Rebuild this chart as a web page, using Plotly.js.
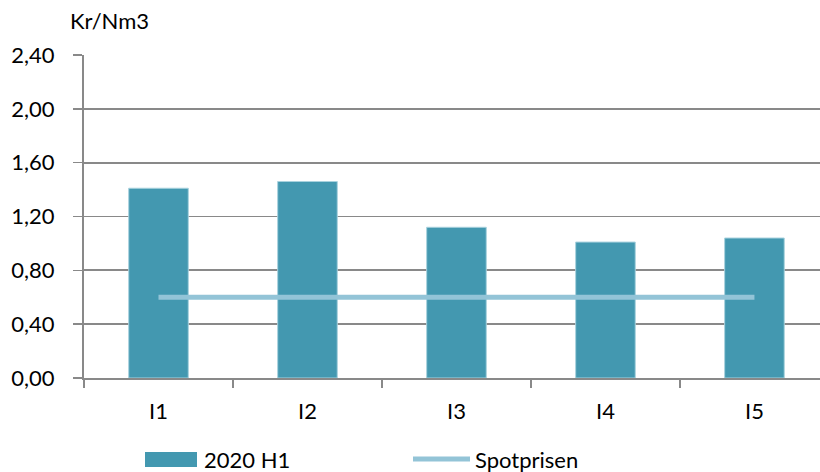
<!DOCTYPE html>
<html>
<head>
<meta charset="utf-8">
<script src="https://cdn.plot.ly/plotly-3.0.1.min.js"></script>
<style>html,body{margin:0;padding:0;background:#fff;}#chart{width:820px;height:472px;}</style>
</head>
<body>
<div id="chart"></div>
<script>
var categories = ["I1", "I2", "I3", "I4", "I5"];
var values2020H1 = [1.41, 1.46, 1.12, 1.01, 1.04];
var spotprisen = [0.60, 0.60, 0.60, 0.60, 0.60];
var seriesNames = ["2020 H1", "Spotprisen"];
var yTicks = [0, 0.4, 0.8, 1.2, 1.6, 2.0, 2.4];
var yTickLabels = ["0,00", "0,40", "0,80", "1,20", "1,60", "2,00", "2,40"];

var barColor = "#4398B0";
var lineColor = "#93C4D7";
var gridColor = "#898989";
var fontFamily = "Lato, 'Noto Sans', sans-serif";

var traces = [
  {
    type: "bar",
    name: seriesNames[0],
    x: categories,
    y: values2020H1,
    marker: {color: barColor, line: {color: "#A9D2DE", width: 1}},
    hoverinfo: "skip"
  },
  {
    type: "scatter",
    mode: "lines",
    name: seriesNames[1],
    x: categories,
    y: spotprisen,
    line: {color: lineColor, width: 5},
    hoverinfo: "skip"
  }
];

var layout = {
  width: 820,
  height: 472,
  margin: {l: 84, r: 0, t: 55, b: 94},
  paper_bgcolor: "#fff",
  plot_bgcolor: "#fff",
  font: {family: fontFamily, size: 22, color: "#000"},
  showlegend: false,
  bargap: 0.6,
  xaxis: {
    type: "category",
    range: [-0.5, 4.44],
    showgrid: false,
    showline: true,
    linecolor: gridColor,
    linewidth: 2,
    ticks: "outside",
    tickson: "boundaries",
    ticklen: 8,
    tickwidth: 1.5,
    tickcolor: gridColor,
    ticklabelstandoff: 13,
    tickfont: {family: fontFamily, size: 22, color: "#000"},
    fixedrange: true
  },
  yaxis: {
    range: [0, 2.4],
    tickvals: yTicks,
    ticktext: yTickLabels,
    showgrid: true,
    gridcolor: gridColor,
    gridwidth: 1.8,
    zeroline: false,
    showline: true,
    linecolor: gridColor,
    linewidth: 2,
    ticks: "outside",
    ticklen: 9,
    tickwidth: 1.5,
    tickcolor: gridColor,
    ticklabelstandoff: 14,
    tickfont: {family: fontFamily, size: 22, color: "#000"},
    fixedrange: true
  },
  annotations: [
    {text: "Kr/Nm3", xref: "paper", yref: "paper", x: -0.022, y: 1.0, yshift: 35,
     xanchor: "left", yanchor: "middle", showarrow: false,
     font: {family: fontFamily, size: 22, color: "#000"}},
    {text: seriesNames[0], xref: "paper", yref: "paper", x: (202 - 84) / 736, y: 0, yshift: -81,
     xanchor: "left", yanchor: "middle", showarrow: false,
     font: {family: fontFamily, size: 22, color: "#000"}},
    {text: seriesNames[1], xref: "paper", yref: "paper", x: (473 - 84) / 736, y: 0, yshift: -81,
     xanchor: "left", yanchor: "middle", showarrow: false,
     font: {family: fontFamily, size: 22, color: "#000"}}
  ],
  shapes: [
    {type: "rect", xref: "paper", yref: "paper",
     x0: (145 - 84) / 736, x1: (197 - 84) / 736, y0: -(452 - 378) / 323, y1: -(467 - 378) / 323,
     fillcolor: barColor, line: {width: 0}},
    {type: "line", xref: "paper", yref: "paper",
     x0: (413 - 84) / 736, x1: (470 - 84) / 736, y0: -(459 - 378) / 323, y1: -(459 - 378) / 323,
     line: {color: lineColor, width: 5}}
  ]
};

Plotly.newPlot("chart", traces, layout, {displayModeBar: false, staticPlot: true});
</script>
</body>
</html>
